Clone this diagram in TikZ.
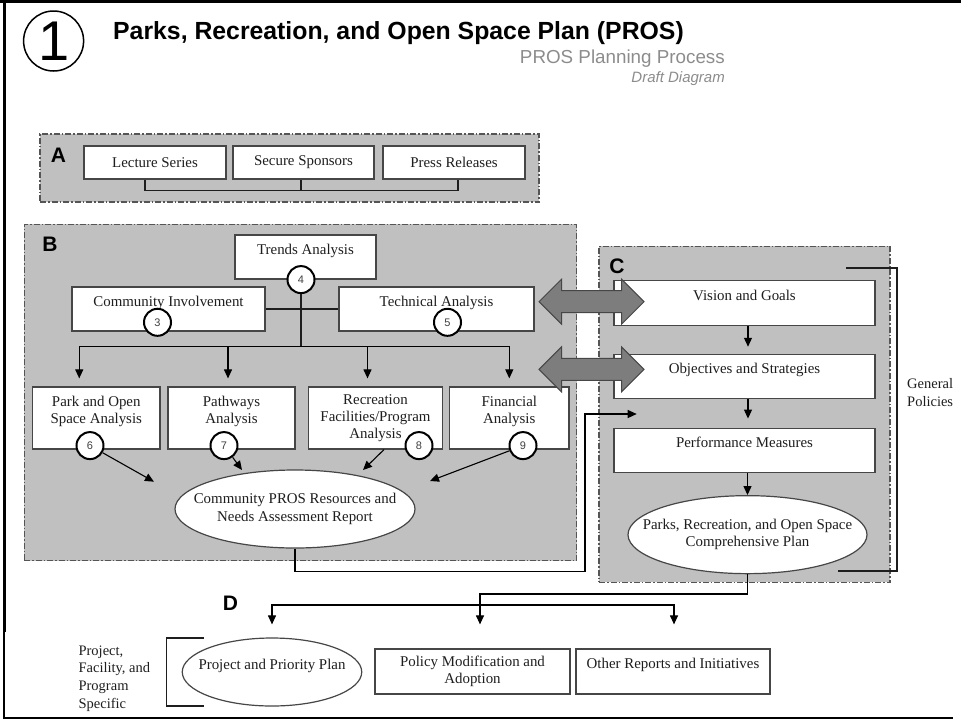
\documentclass[tikz,border=0pt]{standalone}
\usepackage{fontspec}
\setmainfont{Liberation Serif}
\setsansfont{Liberation Sans}
\usepackage{tikz}
\usetikzlibrary{arrows.meta, positioning, shapes.geometric, shapes.arrows}
\definecolor{panelgray}{RGB}{192,192,192}
\definecolor{panelline}{RGB}{85,85,85}
\definecolor{boxline}{RGB}{70,70,70}
\definecolor{textdark}{RGB}{30,30,30}
\definecolor{bigarrow}{RGB}{125,125,125}
\definecolor{subgray}{RGB}{140,140,140}
\newcommand\prosfont{\fontsize{14.9}{17.3}\selectfont}
\tikzset{
  panel/.style={
    rectangle, draw=panelline, fill=panelgray, line width=1.1pt,
    dash pattern=on 6pt off 2pt on 1.5pt off 2pt, inner sep=0pt
  },
  box/.style={
    rectangle, draw=boxline, fill=white, line width=1.2pt,
    align=center, text=textdark, font=\prosfont, inner sep=2pt
  },
  oval/.style={
    ellipse, draw=boxline, fill=white, line width=1.2pt,
    align=center, text=textdark, font=\prosfont, inner xsep=-30pt, inner ysep=0pt
  },
  upper/.style={text depth=16pt},
  num/.style={
    circle, draw=black, line width=2pt, fill=white, minimum size=27pt,
    inner sep=0pt, text=darkgray, font=\sffamily\fontsize{11}{11}\selectfont
  },
  lbl/.style={inner sep=0pt, font=\sffamily\bfseries\fontsize{21}{21}\selectfont},
  note/.style={inner sep=0pt, align=left, text=textdark, font=\fontsize{14.5}{17.8}\selectfont},
  link/.style={draw=textdark, line width=1.1pt},
  arr/.style={-{Triangle[length=9pt,width=8pt]}, draw=black, line width=1.1pt}
}

\begin{document}
\begin{tikzpicture}[
  x=1pt, y=-1pt,
  dblarrow/.style={double arrow, draw=boxline, fill=bigarrow, line width=1pt,
    double arrow head extend=11.5pt, double arrow tip angle=90,
    inner xsep=0pt, inner ysep=10.5pt, text height=0pt, text depth=0pt,
    minimum height=105pt, minimum width=0pt}
]
\useasboundingbox (0,0) rectangle (961,721);

% Cadre et titre
\draw[line width=3pt] (0,1.5) -- (961,1.5);
\draw[line width=3pt] (4,0) -- (4,632);
\draw[line width=1.5pt] (4,632) -- (4,718) -- (953,718);

\node[circle, draw=black, line width=1.5pt, minimum size=60pt, inner sep=0pt,
  font=\sffamily\fontsize{56}{56}\selectfont] (one) at (53.6,41) {1};
\node[anchor=west, inner sep=0pt, font=\sffamily\bfseries\fontsize{24.8}{26}\selectfont]
  (title) at (113,33) {Parks, Recreation, and Open Space Plan (PROS)};
\node[anchor=east, inner sep=0pt, text=subgray, font=\sffamily\fontsize{18.8}{21}\selectfont]
  (subtitle) at (725,59) {PROS Planning Process};
\node[anchor=east, inner sep=0pt, text=subgray, font=\sffamily\itshape\fontsize{15}{16}\selectfont]
  (draft) at (725,79) {Draft Diagram};

% Bloc A
\node[panel, minimum width=499pt, minimum height=68pt] (pa) at (289.5,168) {};
\node[lbl] (labA) at (58.5,155.5) {A};
\node[box, minimum width=142pt, minimum height=33pt] (lecture) at (155,162.5) {Lecture Series};
\node[box, minimum width=141pt, minimum height=33pt] (secure) at (303.5,162.5) {Secure Sponsors};
\node[box, minimum width=142pt, minimum height=33pt] (press) at (454,162.5) {Press Releases};
\coordinate (abus) at (301,190.7);
\draw[link] ([xshift=-10pt]lecture.south) |- (abus) -| ([xshift=4pt]press.south);
\draw[link] ([xshift=-2.5pt]secure.south) -- (abus);

% Bloc B
\node[panel, minimum width=552.4pt, minimum height=336.4pt] (pb) at (300.5,392.5) {};
\node[lbl] (labB) at (50,244.5) {B};
\node[box, upper, minimum width=141pt, minimum height=44pt] (trends) at (305.5,257) {Trends Analysis};
\node[box, upper, minimum width=193pt, minimum height=44pt] (community) at (168.5,309) {Community Involvement};
\node[box, upper, minimum width=195pt, minimum height=44pt] (technical) at (436.5,309) {Technical Analysis};
\node[box, upper, minimum width=127.5pt, minimum height=62pt] (park) at (96.25,418) {Park and Open\\Space Analysis};
\node[box, upper, minimum width=127pt, minimum height=62pt] (pathways) at (231.5,418) {Pathways\\Analysis};
\node[box, minimum width=134pt, minimum height=62pt] (recreation) at (375.5,418) {Recreation\\Facilities/Program\\Analysis};
\node[box, upper, minimum width=119.4pt, minimum height=62pt] (financial) at (509.3,418) {Financial\\Analysis};
\node[oval, minimum width=240pt, minimum height=78pt] (report) at (295,509) {Community PROS Resources and\\Needs Assessment Report};

\node[num] (n4) at ([xshift=-4.5pt]trends.south) {4};
\node[num] (n3) at ([xshift=-11pt,yshift=9.3pt]community.south) {3};
\node[num] (n5) at ([xshift=11pt,yshift=9.3pt]technical.south) {5};
\node[num] (n6) at ([xshift=-6.25pt,yshift=4pt]park.south) {6};
\node[num] (n7) at ([xshift=-7.5pt,yshift=4pt]pathways.south) {7};
\node[num] (n8) at ([xshift=43.5pt,yshift=4pt]recreation.south) {8};
\node[num] (n9) at ([xshift=13.7pt,yshift=4pt]financial.south) {9};

\coordinate (bbus) at (301,346.7);
\draw[link] (community.east) -- (technical.west);
\draw[link] (n4) -- (bbus);
\draw[arr, shorten >=8pt] (bbus) -| ([xshift=-17pt]park.north);
\draw[arr, shorten >=8pt] (bbus) -| ([xshift=-3.5pt]pathways.north);
\draw[arr, shorten >=8pt] (bbus) -| ([xshift=-8pt]recreation.north);
\draw[arr, shorten >=8pt] (bbus) -| (financial.north);

\coordinate (t6) at (154,481.7);
\coordinate (t7) at (242,470);
\coordinate (t8) at (363,470);
\coordinate (t9) at (430,481);
\draw[arr] (n6) -- (t6);
\draw[arr] (n7) -- (t7);
\draw[arr] ([xshift=8.5pt]recreation.south) -- (t8);
\draw[arr] (n9) -- (t9);

% Bloc C
\node[panel, minimum width=291pt, minimum height=336.3pt] (pc) at (744.5,414.2) {};
\node[lbl] (labC) at (617,266.5) {C};
\node[box, upper, minimum width=261pt, minimum height=44.3pt] (vision) at (744.5,303) {Vision and Goals};
\node[box, upper, minimum width=261pt, minimum height=44.3pt, below=28pt of vision] (objectives) {Objectives and Strategies};
\node[box, upper, minimum width=261pt, minimum height=44.3pt, below=28.3pt of objectives] (performance) {Performance Measures};
\node[oval, minimum width=239pt, minimum height=78pt, below=22pt of performance, xshift=3pt] (plan) {Parks, Recreation, and Open Space\\Comprehensive Plan};

\draw[arr, shorten >=7pt] ([xshift=3.5pt]vision.south) -- ([xshift=3.5pt]objectives.north);
\draw[arr, shorten >=9pt] ([xshift=3.5pt]objectives.south) -- ([xshift=3.5pt]performance.north);
\draw[arr] (performance.south -| plan.north) -- (plan.north);

\node[note, anchor=west] (policies) at (907,392.5) {General\\Policies};
\coordinate (gptop) at (846,268);
\coordinate (gpbot) at (838,571);
\draw[link] (gptop) -| ([xshift=-10pt]policies.west) |- (gpbot);

\node[dblarrow] (link1) at (591.5,301.7) {};
\node[dblarrow] (link2) at (591.5,369.3) {};

\coordinate (bcturn) at (585,571.7);
\coordinate (tperf) at (636.7,414);
\draw[arr] (report.south) |- (bcturn) |- (tperf);

% Bloc D
\node[lbl] (labD) at (230.5,603) {D};
\node[oval, upper, minimum width=179.5pt, minimum height=68pt] (prio) at (272,672) {Project and Priority Plan};
\node[box, minimum width=195pt, minimum height=45pt] (policy) at (472.5,671.5) {Policy Modification and\\Adoption};
\node[box, upper, minimum width=194pt, minimum height=45pt] (other) at (673,671.5) {Other Reports and Initiatives};
\node[note, anchor=west] (scope) at (78.4,678.5) {Project,\\Facility, and\\Program\\Specific};
\draw[link] (204,638) -| (166.7,706) -- (204,706);

\coordinate (dturn) at (480,594);
\coordinate (dbus) at (480,605);
\draw[arr, shorten >=24pt] (plan.south) |- (dturn) -- ([xshift=7.5pt]policy.north);
\draw[arr, shorten >=13pt] (dbus) -| (prio.north);
\draw[arr, shorten >=24pt] (dbus) -| ([xshift=1pt]other.north);

\end{tikzpicture}
\end{document}
